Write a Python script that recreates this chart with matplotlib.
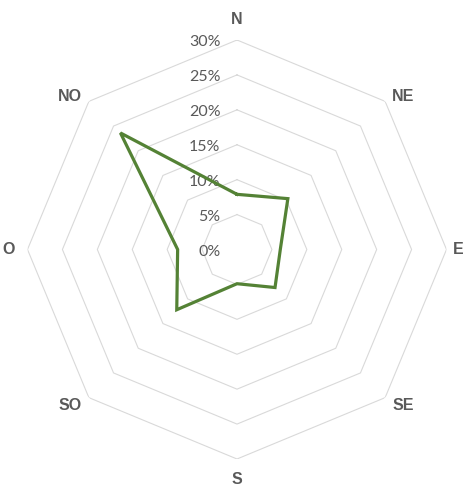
import numpy as np
import matplotlib
matplotlib.use("Agg")
import matplotlib.pyplot as plt

plt.rcParams["font.family"] = ["Lato", "DejaVu Sans"]

# Wind direction frequencies (%)
directions = ["N", "NE", "E", "SE", "S", "SO", "O", "NO"]
frequency = [7.9, 10.3, 6.2, 7.7, 4.9, 12.2, 8.5, 23.6]
ring_values = [0, 5, 10, 15, 20, 25, 30]
ring_labels = ["0%", "5%", "10%", "15%", "20%", "25%", "30%"]

TEXT = "#595959"
GRID = "#d9d9d9"
LINE = "#548235"

fig = plt.figure(figsize=(4.64, 4.86), dpi=100)
ax = fig.add_axes([0.05927, 0.05556, 0.90302, 0.86214], projection="polar")
ax.set_theta_zero_location("N")
ax.set_theta_direction(-1)
ax.set_ylim(0, 30)
ax.grid(False)
ax.spines["polar"].set_visible(False)
ax.set_xticks([])
ax.set_yticks([])
ax.patch.set_alpha(0)

n = len(directions)
theta = np.arange(n) * 2 * np.pi / n
theta_closed = np.append(theta, theta[0])

# octagonal gridlines
for r in ring_values[1:]:
    ax.plot(theta_closed, [r] * (n + 1), color=GRID, lw=0.8, zorder=1)

# ring value labels along the north axis
for r, lab in zip(ring_values, ring_labels):
    ax.annotate(lab, xy=(0, r), xytext=(-12, -1.5), textcoords="offset points",
                ha="right", va="center", fontsize=11.5, color=TEXT,
                annotation_clip=False)

# category labels just outside the outer ring
rmax = ring_values[-1]
label_font = dict(family=["Liberation Sans", "DejaVu Sans"], fontsize=11.5,
                  fontweight="bold", color=TEXT)
for t, lab in zip(theta, directions):
    dx, dy = np.sin(t), np.cos(t)
    if abs(dx) < 1e-6:
        ha, va = "center", ("bottom" if dy > 0 else "top")
        off = (0, 9.5 * np.sign(dy))
    elif abs(dy) < 1e-6:
        ha, va = ("left" if dx > 0 else "right"), "center"
        off = ((4.5 if dx > 0 else -9), 0)
    else:
        ha = "left" if dx > 0 else "right"
        va = "bottom" if dy > 0 else "top"
        off = (5 * np.sign(dx), -2 if dy > 0 else 0)
    ax.annotate(lab, xy=(t, rmax), xytext=off, textcoords="offset points",
                ha=ha, va=va, annotation_clip=False, **label_font)

vals = np.append(frequency, frequency[0])
ax.plot(theta_closed, vals, color=LINE, lw=2.3, solid_joinstyle="miter", zorder=3)

fig.savefig("out.png", dpi=100)
